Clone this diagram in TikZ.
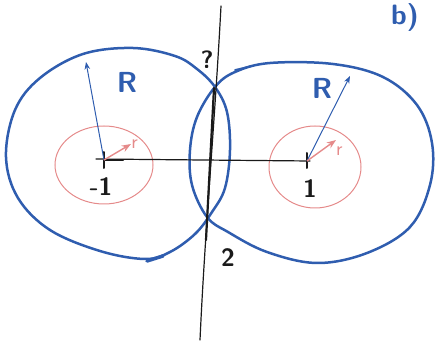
\documentclass[tikz,border=0pt]{standalone}
\usepackage{fontspec}
\usepackage{xcolor}
\definecolor{ink}{HTML}{2F5DAF}
\definecolor{rose}{HTML}{E58A8A}
\definecolor{pencil}{HTML}{1A1A1A}
\usepackage{tikz}
\usetikzlibrary{arrows.meta, positioning, calc}

\begin{document}
\begin{tikzpicture}[x=1pt, y=-1pt, >=Stealth,
  penline/.style={draw=ink, line width=2.5pt, line cap=round, line join=round},
  redline/.style={draw=rose, line width=1pt},
  axisline/.style={draw=pencil, line width=1.2pt, line cap=round},
  hand/.style={font=\sffamily\bfseries, inner sep=0pt}]

  \useasboundingbox (0,0) rectangle (437,342);

  \coordinate (cminus) at (104,160);
  \coordinate (cplus) at (307,161);
  \coordinate (tipR1) at (86,62);
  \coordinate (tipR2) at (350,76);
  \coordinate (tipr1) at (131,144);
  \coordinate (tipr2) at (336,140);

  % small circles
  \draw[redline] (104,165) ellipse [x radius=49, y radius=39];
  \draw[redline] (315,167) ellipse [x radius=46, y radius=41];

  % the two contours
  \draw[penline] plot[smooth cycle, tension=0.6] coordinates {
    (133,48) (175,56) (197,69) (215,87) (227,112) (230,150) (225,188)
    (212,212) (195,234) (170,252) (145,259) (100,251) (50,230) (18,198)
    (6,157) (15,110) (40,78) (83,54)};
  \draw[penline] plot[smooth cycle, tension=0.6] coordinates {
    (215,87) (235,72) (270,63) (333,64) (383,77) (417,105) (432,143)
    (430,185) (410,227) (367,253) (317,263) (267,252) (228,232) (207,217)
    (192,185) (190,150) (197,117)};
  \draw[penline, line width=3.5pt] (147,261) -- (163,256);
  \draw[penline, line width=1.8pt] (235,70) -- (252,66);

  % axes
  \draw[axisline] (221,6) .. controls (215,120) and (205,230) .. (200,340);
  \draw[axisline, line width=2.2pt] (214,88) -- (206,240);
  \draw[axisline] (96,159) -- (310,161);
  \draw[axisline, line width=2pt] (104,152) -- (104,168);
  \draw[axisline, line width=2pt] (307,153) -- (307,168);
  \draw[axisline, line width=2.4pt] (104,160) -- (123,160);

  % radii
  \draw[->, draw=ink, line width=1pt] (cminus) -- (tipR1);
  \draw[->, draw=ink, line width=1pt] (cplus) -- (tipR2);
  \draw[->, draw=rose, line width=1.4pt] (cminus) -- (tipr1);
  \draw[->, draw=rose, line width=1.4pt] (cplus) -- (tipr2);

  \node[hand, font=\sffamily\bfseries\fontsize{29}{31}\selectfont, text=ink]
    (bigR1) at (127,82) {R};
  \node[hand, font=\sffamily\bfseries\fontsize{29}{31}\selectfont, text=ink]
    (bigR2) at (322,88) {R};
  \node[hand, font=\sffamily\fontsize{20}{22}\selectfont, text=rose,
        left=-7pt of tipr1] (smallr1) {r};
  \node[hand, font=\sffamily\fontsize{20}{22}\selectfont, text=rose,
        below right=7pt and 0pt of tipr2] (smallr2) {r};

  \node[hand, font=\sffamily\bfseries\fontsize{25}{27}\selectfont, text=pencil]
    (minusone) at (101,187) {-1};
  \node[hand, font=\sffamily\bfseries\fontsize{25}{27}\selectfont, text=pencil]
    (plusone) at (310,189) {1};
  \node[hand, font=\sffamily\bfseries\fontsize{25}{27}\selectfont, text=pencil]
    (qmark) at (207,60) {?};
  \node[hand, font=\sffamily\bfseries\fontsize{25}{27}\selectfont, text=pencil]
    (two) at (228,258) {2};
  \node[hand, font=\sffamily\bfseries\fontsize{28}{30}\selectfont, text=ink]
    (part) at (405,18) {b)};

\end{tikzpicture}
\end{document}
